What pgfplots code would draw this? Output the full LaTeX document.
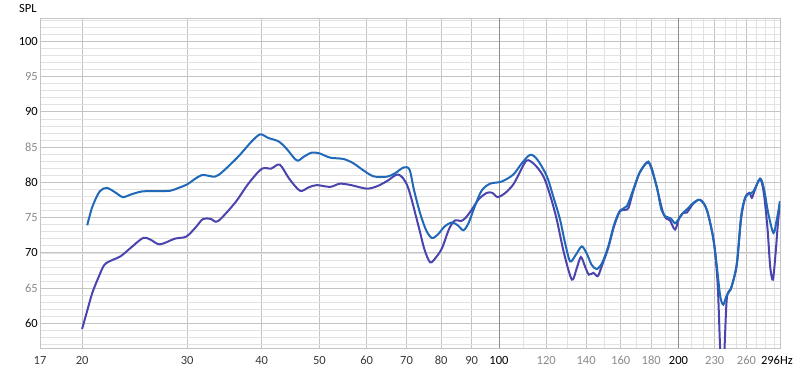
\documentclass[border=0pt]{standalone}
\usepackage{pgfplots}
\pgfplotsset{compat=1.18}
\usepackage{fontspec}
\setmainfont{Carlito}
\definecolor{blueline}{HTML}{1F69B8}
\definecolor{purpline}{HTML}{4B44AF}
\definecolor{gridmin}{HTML}{E2E2E2}
\definecolor{gridmaj}{HTML}{C4C4C4}
\definecolor{griddark}{HTML}{8C8C8C}
\definecolor{lblgray}{HTML}{8A8A8A}
\definecolor{lbldark}{HTML}{3A3A3A}
\begin{document}
\begin{tikzpicture}
\begin{axis}[
  name=ax,
  scale only axis, width=740pt, height=330pt,
  xmode=log, xmin=17, xmax=296, ymin=56.5, ymax=103.3,
  xtick={17,20,30,40,50,60,70,80,90,120,140,160,180,230,260,296},
  xticklabels={\textcolor{lbldark}{17},\textcolor{lbldark}{20},\textcolor{lbldark}{30},\textcolor{lbldark}{40},\textcolor{lbldark}{50},\textcolor{lbldark}{60},\textcolor{lbldark}{70},\textcolor{lbldark}{80},\textcolor{lbldark}{90},\textcolor{lblgray}{120},\textcolor{lblgray}{140},\textcolor{lblgray}{160},\textcolor{lblgray}{180},\textcolor{lblgray}{230},\textcolor{lblgray}{260},\makebox[0pt][r]{296}\rlap{Hz}},
  minor xtick={110,130,150,170,190,210,220,240,250,270,280,290},
  extra x ticks={100,200}, extra x tick labels={100,200},
  extra x tick style={grid=major, major grid style={griddark, line width=0.8pt}},
  ytick={60,65,...,100},
  yticklabels={\textcolor{black}{60},\textcolor{lblgray}{65},\textcolor{black}{70},\textcolor{lblgray}{75},\textcolor{black}{80},\textcolor{lblgray}{85},\textcolor{black}{90},\textcolor{lblgray}{95},\textcolor{black}{100}},
  minor ytick={57,...,103},
  grid=both,
  major grid style={gridmaj, line width=0.7pt},
  minor grid style={gridmin, line width=0.6pt},
  major tick length=0pt, minor tick length=0pt,
  axis line style={gridmaj, line width=0.9pt},
  tick label style={font=\fontsize{12.5}{14}\selectfont},
  xticklabel style={inner sep=0pt, yshift=-8pt},
  yticklabel style={inner sep=2pt},
  clip=true,
]
\addplot[purpline, line width=2pt, smooth, tension=0.5] coordinates {
(20.0,59.2) (20.4,61.8) (20.8,64.3) (21.3,66.5) (21.8,68.3) (22.5,69.0) (23.2,69.5)
(24.2,70.8) (25.3,72.1) (26.0,71.9) (27.0,71.2) (28.6,72.0) (29.9,72.3) (31.0,73.6)
(31.9,74.8) (32.9,74.8) (33.8,74.5) (36.1,77.1) (38.0,79.8) (40.0,81.9) (41.5,81.95)
(42.9,82.5) (44.5,80.5) (46.4,78.8) (48.0,79.3) (49.5,79.6) (52.1,79.35) (54.1,79.8)
(56.5,79.6) (60.0,79.1) (62.5,79.45) (65.0,80.2) (67.8,81.1) (70.3,79.4) (73.3,73.8)
(75.0,70.5) (76.7,68.65) (78.5,69.4) (80.3,70.7) (82.5,73.4) (84.4,74.6) (86.4,74.5)
(88.0,75.0) (90.0,76.1) (92.5,77.6) (95.4,78.5) (97.5,78.5) (99.5,77.9) (102.5,78.5)
(105.7,79.7) (108.5,81.5) (111.3,83.1) (114.5,82.6) (118.7,80.85) (122.0,78.0)
(125.0,74.7) (128.5,70.0) (132.5,66.2) (135.0,67.8) (137.2,69.4) (139.5,68.0)
(141.5,66.9) (144.0,67.15) (146.5,66.7) (149.0,68.3) (152.5,70.7) (156.0,73.8)
(159.6,75.9) (163.0,76.1) (165.0,76.4) (168.0,78.8) (172.0,81.3) (177.0,82.8)
(180.0,82.2) (184.0,79.2) (188.0,76.0) (190.5,74.9) (193.5,74.6) (197.4,73.3)
(200.5,74.9) (203.8,75.7) (206.5,75.7) (211.9,77.0) (217.5,77.5) (223.1,76.1)
(228.9,71.9) (232.5,66.0) (234.5,58.0) (236.5,50.0) (238.5,55.0) (241.0,63.5)
(244.6,64.8) (247.0,66.0) (250.6,68.4) (254.7,74.8) (258.7,77.8) (263.0,78.5)
(265.5,77.8) (268.0,78.7) (274.0,80.5) (278.0,78.5) (282.0,73.5) (285.0,68.0)
(288.0,66.2) (291.0,70.0) (293.5,74.0) (296.0,77.3)
};
\addplot[blueline, line width=2pt, smooth, tension=0.5] coordinates {
(20.4,73.9) (20.8,76.5) (21.4,78.7) (22.0,79.2) (22.7,78.6) (23.4,77.9) (24.2,78.3)
(25.2,78.7) (26.6,78.75) (28.1,78.8) (29.0,79.2) (30.0,79.7) (31.7,81.0) (33.4,80.8)
(34.5,81.6) (36.6,83.7) (38.5,85.8) (39.8,86.8) (41.0,86.3) (42.7,85.8) (44.0,84.8)
(45.8,83.1) (47.0,83.6) (48.5,84.2) (50.0,84.1) (52.1,83.5) (54.9,83.3) (57.0,82.7)
(59.0,81.8) (61.6,80.85) (64.9,80.8) (67.0,81.3) (69.2,82.1) (70.8,81.8) (72.0,79.0)
(73.7,75.7) (75.5,73.2) (77.2,72.1) (79.0,72.6) (81.0,73.7) (83.3,74.3) (85.3,73.9)
(87.2,73.2) (89.0,74.3) (91.0,76.5) (93.5,78.8) (96.6,79.8) (101,80.1) (105.7,81.1)
(109.0,82.6) (112.8,83.9) (116.0,83.2) (120.3,80.85) (123.5,77.8) (126.6,74.7)
(129.0,71.5) (131.6,68.8) (134.5,69.7) (137.7,70.9) (140.5,69.8) (143.0,68.3)
(145.9,67.7) (149.0,68.6) (152.5,70.9) (156.0,74.0) (159.6,76.0) (163.8,76.6)
(168.0,79.0) (172.0,81.3) (177.0,82.8) (179.0,82.6) (183.9,79.4) (187.0,76.3)
(189.9,75.2) (194.0,74.9) (197.4,74.2) (200.5,74.9) (203.8,75.7) (208.0,76.4)
(211.9,77.1) (217.5,77.5) (223.1,76.1) (228.9,71.9) (232.0,68.0) (235.0,63.8)
(237.8,62.65) (240.5,63.8) (245.6,65.25) (250.6,68.6) (254.7,75.2) (258.7,77.8)
(263.0,78.4) (267.1,78.7) (274.0,80.5) (278.0,79.2) (283.0,75.5) (288.6,72.8)
(292.0,74.5) (296.0,77.3)
};
\end{axis}
\node[anchor=west, inner sep=0pt, font=\fontsize{12.5}{14}\selectfont] at ([xshift=-21pt,yshift=10pt]ax.north west) {SPL};
\pgfresetboundingbox
\path ([shift={(-40pt,-24pt)}]ax.south west) rectangle ([shift={(20pt,18pt)}]ax.north east);
\end{tikzpicture}
\end{document}
